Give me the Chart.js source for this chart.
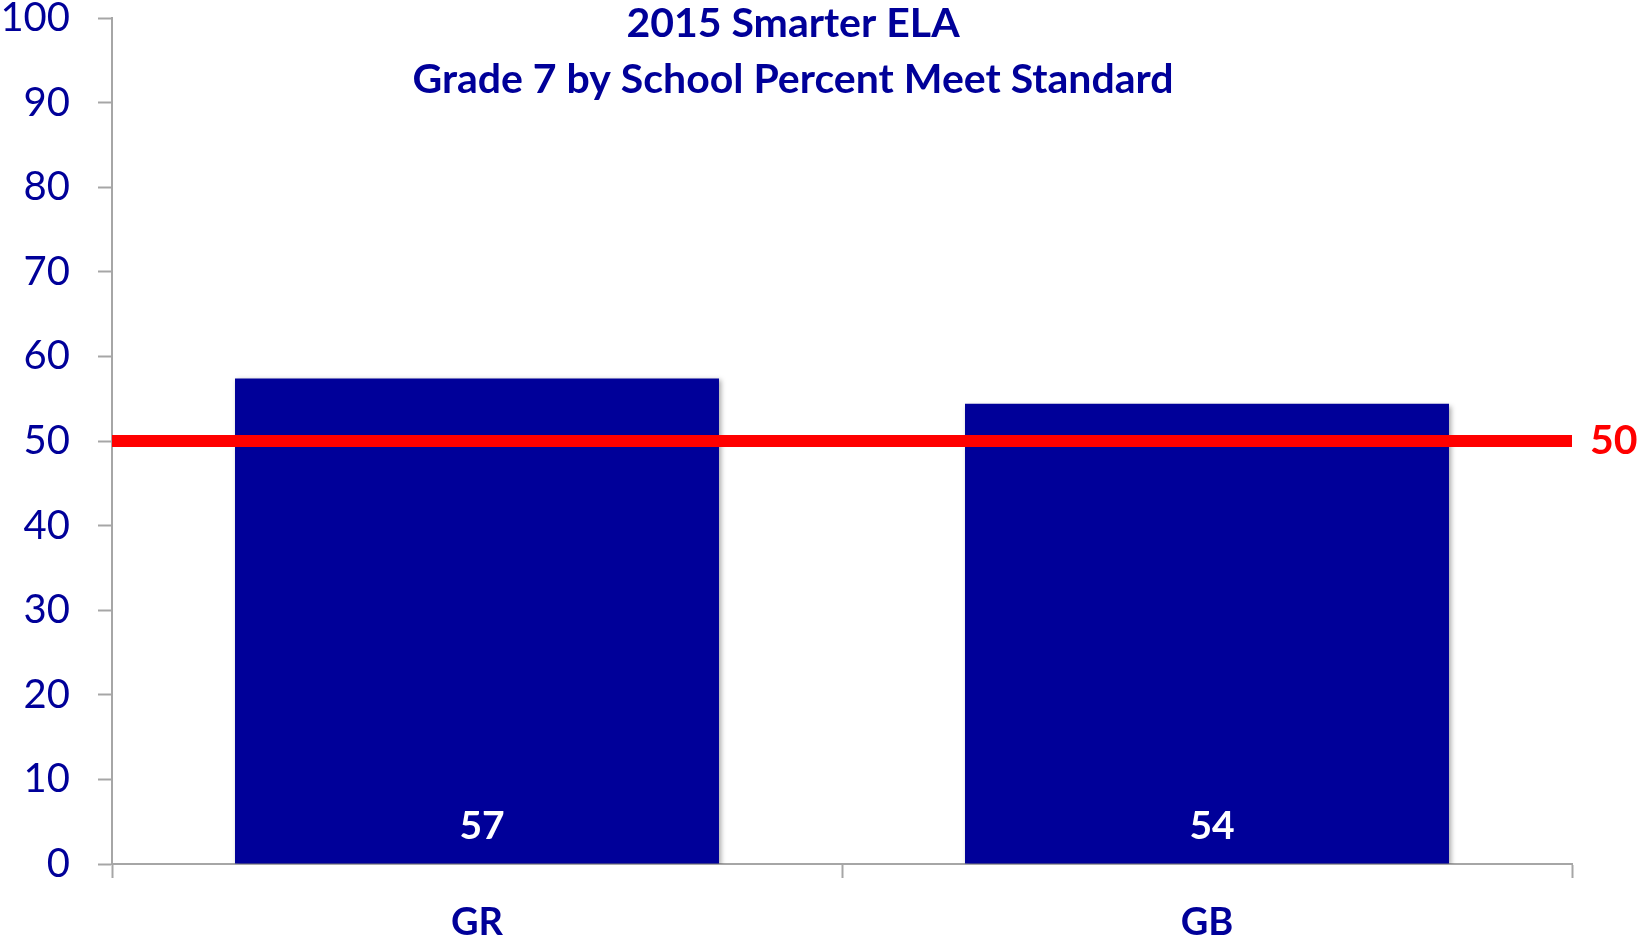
<!DOCTYPE html>
<html>
<head>
<meta charset="utf-8">
<script src="https://cdn.jsdelivr.net/npm/chart.js@4"></script>
<style>
  html, body { margin: 0; padding: 0; background: #fff; }
  #wrap { width: 1638px; height: 947px; }
</style>
</head>
<body>
<div id="wrap"><canvas id="ela_chart"></canvas></div>
<script>
'use strict';

// chart data
const schools = ['GR', 'GB'];
const percentMeet = [57.4, 54.4];
const standardLine = [50];
const titleLines = ['2015 Smarter ELA', 'Grade 7 by School Percent Meet Standard'];

const navy = '#000099';
const axisGray = '#a6a6a6';
const fontFamily = 'Lato, "Open Sans", sans-serif';

// title drawn over the plot, like the original
const titlePlugin = {
    id: 'overlayTitle',
    afterDraw(chart) {
        const ctx = chart.ctx;
        ctx.save();
        ctx.fillStyle = navy;
        ctx.font = 'bold 41px ' + fontFamily;
        ctx.textAlign = 'center';
        ctx.textBaseline = 'middle';
        ctx.fillText(titleLines[0], 793, 24);
        ctx.fillText(titleLines[1], 793, 80);
        ctx.restore();
    }
};

// red standard line plus its label on the right
const standardPlugin = {
    id: 'standardLine',
    afterDatasetsDraw(chart) {
        const ctx = chart.ctx;
        const area = chart.chartArea;
        const y = chart.scales.y.getPixelForValue(standardLine[0]);
        ctx.save();
        ctx.strokeStyle = '#ff0000';
        ctx.lineWidth = 12;
        ctx.beginPath();
        ctx.moveTo(area.left, y);
        ctx.lineTo(area.right, y);
        ctx.stroke();
        ctx.fillStyle = '#ff0000';
        ctx.font = 'bold 41px ' + fontFamily;
        ctx.textAlign = 'left';
        ctx.textBaseline = 'middle';
        ctx.fillText(String(standardLine[0]), area.right + 18, y);
        ctx.restore();
    }
};

// value labels at the bottom of each bar
const valueLabelPlugin = {
    id: 'valueLabels',
    afterDatasetsDraw(chart) {
        const ctx = chart.ctx;
        const meta = chart.getDatasetMeta(0);
        ctx.save();
        ctx.fillStyle = '#ffffff';
        ctx.font = 'bold 39px ' + fontFamily;
        ctx.textAlign = 'center';
        ctx.textBaseline = 'middle';
        meta.data.forEach((bar, i) => {
            ctx.fillText(percentMeet[i].toFixed(0), bar.x + 5, chart.scales.y.getPixelForValue(4.5));
        });
        ctx.restore();
    }
};

// soft shadow under the bars
const shadowPlugin = {
    id: 'barShadow',
    beforeDatasetsDraw(chart) {
        const ctx = chart.ctx;
        ctx.save();
        ctx.shadowColor = 'rgba(0,0,0,0.35)';
        ctx.shadowBlur = 5;
        ctx.shadowOffsetX = 2;
        ctx.shadowOffsetY = 2;
    },
    afterDatasetsDraw(chart) {
        chart.ctx.restore();
    }
};

const ela_chart = new Chart('ela_chart', {
    type: 'bar',
    data: {
        labels: schools,
        datasets: [{
            data: percentMeet,
            backgroundColor: navy,
            borderWidth: 0,
            barPercentage: 0.663,
            categoryPercentage: 1
        }]
    },
    options: {
        responsive: true,
        maintainAspectRatio: false,
        animation: false,
        layout: { padding: { top: 18, right: 66, left: 0, bottom: 0 } },
        plugins: {
            legend: { display: false },
            title: { display: false },
            tooltip: { enabled: false }
        },
        scales: {
            y: {
                min: 0,
                max: 100,
                afterFit: s => {
                    s.width = 112;
                    s.paddingTop = 0;
                    s.paddingBottom = 0;
                },
                ticks: {
                    stepSize: 10,
                    color: navy,
                    padding: 28,
                    font: { family: fontFamily, size: 40 }
                },
                grid: {
                    drawOnChartArea: false,
                    drawTicks: true,
                    tickLength: 14,
                    tickColor: axisGray,
                    tickWidth: 2
                },
                border: { color: axisGray, width: 2 }
            },
            x: {
                afterFit: s => {
                    s.height = 83;
                    s.paddingLeft = 0;
                    s.paddingRight = 0;
                },
                ticks: {
                    color: navy,
                    padding: 22,
                    font: { family: fontFamily, size: 38, weight: 'bold' }
                },
                grid: {
                    offset: true,
                    drawOnChartArea: false,
                    drawTicks: true,
                    tickLength: 14,
                    tickColor: axisGray,
                    tickWidth: 2
                },
                border: { color: axisGray, width: 2 }
            }
        }
    },
    plugins: [shadowPlugin, valueLabelPlugin, standardPlugin, titlePlugin]
});
</script>
</body>
</html>
